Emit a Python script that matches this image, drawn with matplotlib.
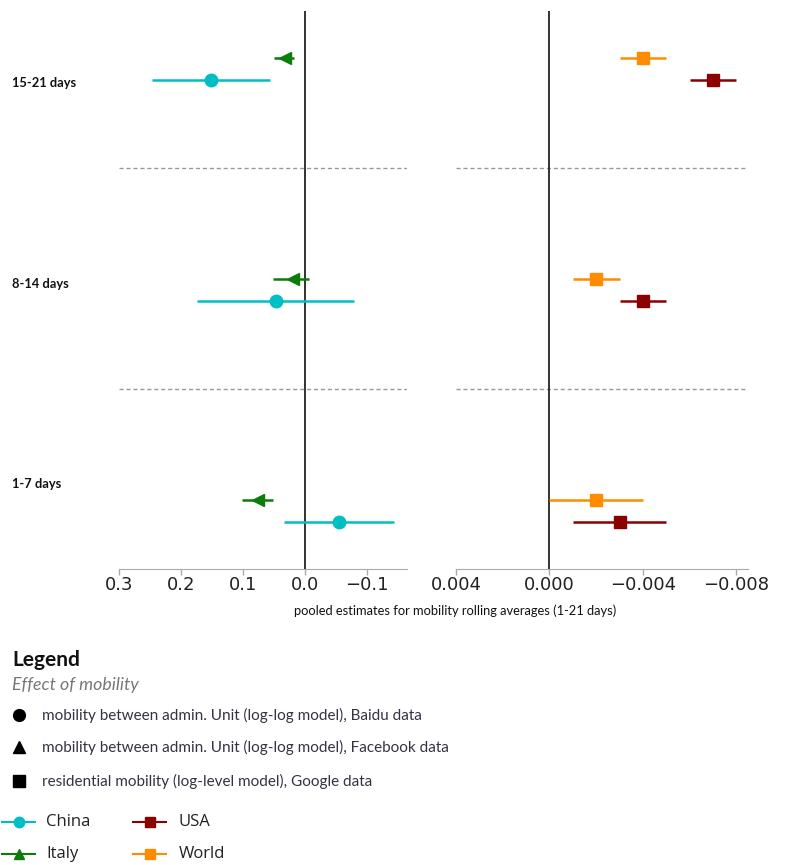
import matplotlib
matplotlib.use("Agg")
import matplotlib.pyplot as plt

# Time windows (bottom to top) and pooled estimates with confidence bounds
windows = ["1-7 days", "8-14 days", "15-21 days"]

# left panel: log-log models (Baidu / Facebook)
china_est = [-0.055, 0.046, 0.152]
china_lo = [0.034, 0.174, 0.246]
china_hi = [-0.144, -0.080, 0.057]

italy_est = [0.075, 0.019, 0.032]
italy_lo = [0.102, 0.051, 0.050]
italy_hi = [0.051, -0.007, 0.018]

# right panel: log-level models (Google residential)
world_est = [-0.002, -0.002, -0.004]
world_lo = [0.000, -0.001, -0.003]
world_hi = [-0.004, -0.003, -0.005]

usa_est = [-0.003, -0.004, -0.007]
usa_lo = [-0.001, -0.003, -0.006]
usa_hi = [-0.005, -0.005, -0.008]

left_ticks = [0.3, 0.2, 0.1, 0.0, -0.1]
right_ticks = [0.004, 0.000, -0.004, -0.008]

C_CHINA = "#00bfc4"
C_ITALY = "#0a7d0a"
C_USA = "#8b0000"
C_WORLD = "#ff8c00"

W, H = 797, 865
fig = plt.figure(figsize=(W / 100, H / 100), dpi=100)

bottom = 1 - 569 / H
height = (569 - 11) / H
axL = fig.add_axes([119 / W, bottom, 288 / W, height])
axR = fig.add_axes([456 / W, bottom, 292 / W, height])

ypos = list(range(len(windows)))
up = [y + 0.05 for y in ypos]
dn = [y - 0.05 for y in ypos]


def draw_series(ax, est, lo, hi, y, color, marker, ms):
    left = [abs(e - h) for e, h in zip(est, hi)]
    right = [abs(l - e) for e, l in zip(est, lo)]
    ax.errorbar(est, y, xerr=[left, right], fmt=marker, color=color, ms=ms,
                elinewidth=1.8, capsize=0, zorder=4)


draw_series(axL, china_est, china_lo, china_hi, dn, C_CHINA, "o", 9)
draw_series(axL, italy_est, italy_lo, italy_hi, up, C_ITALY, "<", 8.5)
draw_series(axR, usa_est, usa_lo, usa_hi, dn, C_USA, "s", 8.5)
draw_series(axR, world_est, world_lo, world_hi, up, C_WORLD, "s", 8.5)

for ax, lim, ticks in [(axL, (0.3, -0.165), left_ticks),
                       (axR, (0.004, -0.0085), right_ticks)]:
    ax.set_xlim(*lim)
    ax.set_ylim(-0.263, 2.262)
    ax.set_xticks(ticks)
    ax.set_yticks([])
    ax.axvline(0, color="#222222", lw=1.3, zorder=3)
    for yd in [0.55, 1.55]:
        ax.axhline(yd, color="#999999", lw=1.0, ls=(0, (3, 2)), zorder=1)
    for side in ["top", "right", "left"]:
        ax.spines[side].set_visible(False)
    ax.spines["bottom"].set_color("#aaaaaa")
    ax.tick_params(axis="x", colors="#aaaaaa", labelcolor="#222222",
                   labelsize=13, length=4, width=1, pad=1)
    ax.set_facecolor("none")

axR.set_xticklabels(["0.004", "0.000", "\u22120.004", "\u22120.008"])
axL.set_xticklabels(["0.3", "0.2", "0.1", "0.0", "\u22120.1"])

# window labels on the far left, evenly spaced down the panel
label_rows = [484, 284, 83]
for yy, name in zip(label_rows, windows):
    fig.text(12 / W, 1 - yy / H, name, ha="left", va="center",
             fontsize=9.3, fontweight="bold", family="Lato", color="#111111")

fig.text(455 / W, 1 - 611 / H,
         "pooled estimates for mobility rolling averages (1-21 days)",
         ha="center", va="center", fontsize=9.3, family="Lato",
         color="#111111")

# legend block drawn in figure pixel space
leg = fig.add_axes([0, 0, 1, 1])
leg.set_xlim(0, W)
leg.set_ylim(H, 0)
leg.axis("off")
leg.patch.set_visible(False)

leg.text(12, 660, "Legend", fontsize=15, fontweight="bold", family="Lato",
         va="center", ha="left", color="#111111")
leg.text(12, 685, "Effect of mobility", fontsize=12.8, style="italic",
         family="Lato", va="center", ha="left", color="#777777")

shape_rows = [
    ("o", "mobility between admin. Unit (log-log model), Baidu data", 715),
    ("^", "mobility between admin. Unit (log-log model), Facebook data", 747),
    ("s", "residential mobility (log-level model), Google data", 781),
]
for mk, txt, yy in shape_rows:
    leg.plot([19], [yy], marker=mk, color="black", ms=8.5, ls="none")
    leg.text(42, yy, txt, fontsize=11, family="Lato", va="center", ha="left",
             color="#333344")

country_rows = [
    ("China", C_CHINA, "o", 2, 822),
    ("USA", C_USA, "s", 133, 822),
    ("Italy", C_ITALY, "^", 2, 854),
    ("World", C_WORLD, "s", 133, 854),
]
for name, col, mk, x0, yy in country_rows:
    leg.plot([x0, x0 + 33], [yy, yy], color=col, lw=1.5)
    leg.plot([x0 + 17], [yy], marker=mk, color=col, ms=7.5, ls="none")
    leg.text(x0 + 44 if x0 < 100 else x0 + 46, yy, name, fontsize=12,
             family="Open Sans", va="center", ha="left", color="#222222")

fig.savefig("out.png", dpi=100)
